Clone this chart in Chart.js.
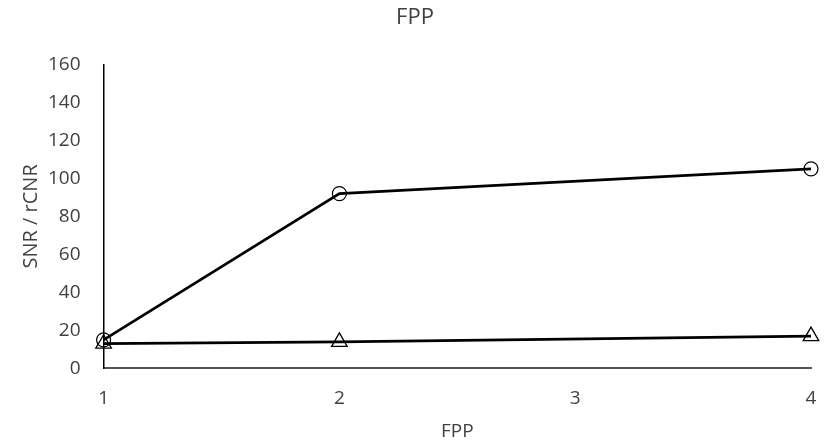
<!DOCTYPE html>
<html>
<head>
<meta charset="utf-8">
<script src="https://cdn.jsdelivr.net/npm/chart.js@4/dist/chart.umd.min.js"></script>
<style>
  html, body { margin: 0; padding: 0; background: #fff; }
  #wrap { width: 827px; height: 447px; }
</style>
</head>
<body>
<div id="wrap"><canvas id="c" width="827" height="447"></canvas></div>
<script>
// FPP levels on the x axis
const fpp = [1, 2, 4];
// SNR (circles) and rCNR (triangles)
const snr = [15, 92, 105];
const rcnr = [13, 14, 17];
const yTicks = [0, 20, 40, 60, 80, 100, 120, 140, 160];
const xTicks = [1, 2, 3, 4];

const toPoints = (xs, ys) => xs.map((x, i) => ({ x: x, y: ys[i] }));
const textColor = '#404040';
const fontFamily = '"Open Sans", "Liberation Sans", sans-serif';

new Chart(document.getElementById('c'), {
  type: 'line',
  data: {
    datasets: [
      {
        label: 'SNR',
        data: toPoints(fpp, snr),
        borderColor: '#000',
        borderWidth: 2.75,
        pointStyle: 'circle',
        pointRadius: 7,
        pointBorderWidth: 1.2,
        pointBorderColor: '#000',
        pointBackgroundColor: 'rgba(255,255,255,0)',
        tension: 0,
        clip: false
      },
      {
        label: 'rCNR',
        data: toPoints(fpp, rcnr),
        borderColor: '#000',
        borderWidth: 2.75,
        pointStyle: 'triangle',
        pointRadius: 9,
        pointBorderWidth: 1.3,
        pointBorderColor: '#000',
        pointBackgroundColor: 'rgba(255,255,255,0)',
        tension: 0,
        clip: false
      }
    ]
  },
  options: {
    responsive: false,
    animation: false,
    layout: { autoPadding: false, padding: { left: 19, right: 16, top: 2, bottom: 4 } },
    plugins: {
      legend: { display: false },
      tooltip: { enabled: false },
      title: {
        display: true,
        text: 'FPP',
        color: textColor,
        font: { family: fontFamily, size: 22, weight: 'normal' },
        padding: { top: 3, bottom: 33 }
      }
    },
    scales: {
      x: {
        type: 'linear',
        min: 1,
        max: 4,
        afterBuildTicks: (axis) => { axis.ticks = xTicks.map(v => ({ value: v })); },
        // keep the end labels from pulling the plot edges inward
        afterFit: (axis) => { axis.paddingLeft = 0; axis.paddingRight = 0; },
        grid: { display: false, drawTicks: false },
        border: { display: true, color: '#555', width: 2 },
        ticks: { color: textColor, padding: 19, font: { family: fontFamily, size: 19 } },
        title: {
          display: true,
          text: 'FPP',
          color: textColor,
          font: { family: fontFamily, size: 19 },
          padding: { top: -9, bottom: 0 }
        }
      },
      y: {
        min: 0,
        max: 160,
        afterBuildTicks: (axis) => { axis.ticks = yTicks.map(v => ({ value: v })); },
        grid: { display: false, drawTicks: false },
        border: { display: true, color: '#000', width: 1.5 },
        ticks: { color: textColor, padding: 23, font: { family: fontFamily, size: 19 } },
        title: {
          display: true,
          text: 'SNR / rCNR',
          color: textColor,
          font: { family: fontFamily, size: 20 },
          padding: { top: 0, bottom: -18 }
        }
      }
    }
  }
});
</script>
</body>
</html>
